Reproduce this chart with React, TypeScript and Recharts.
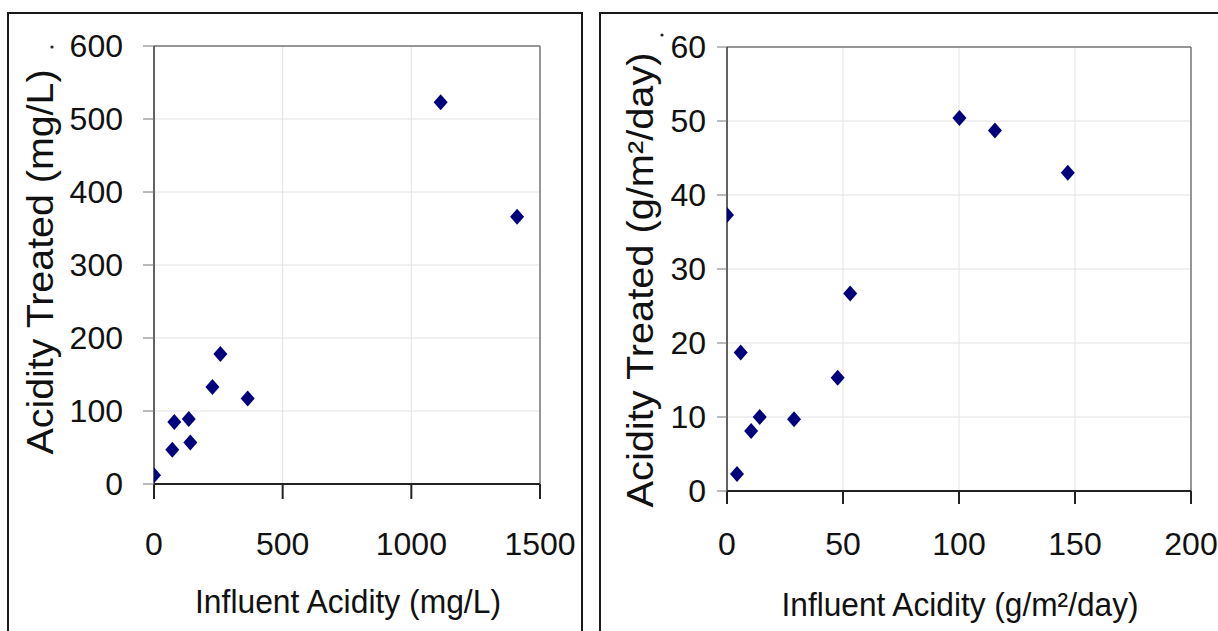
import React from 'react';
import { ScatterChart, Scatter, XAxis, YAxis, CartesianGrid, ReferenceLine } from 'recharts';

// Left panel: concentration basis (mg/L)
const leftInfluent = [0, 71, 79, 135, 141, 227, 258, 364, 1114, 1411];
const leftTreated = [12, 47, 85, 89, 57, 133, 178, 117, 523, 366];
const leftXTicks = [0, 500, 1000, 1500];
const leftYTicks = [0, 100, 200, 300, 400, 500, 600];

// Right panel: loading basis (g/m2/day)
const rightInfluent = [0, 4.3, 5.9, 10.4, 14.1, 28.9, 47.7, 53.1, 100.2, 115.5, 146.9];
const rightTreated = [37.3, 2.3, 18.7, 8.1, 10.0, 9.7, 15.3, 26.7, 50.4, 48.7, 43.0];
const rightXTicks = [0, 50, 100, 150, 200];
const rightYTicks = [0, 10, 20, 30, 40, 50, 60];

const leftData = leftInfluent.map((x, i) => ({ x, y: leftTreated[i] }));
const rightData = rightInfluent.map((x, i) => ({ x, y: rightTreated[i] }));

const FONT = "'Liberation Sans', Arial, sans-serif";
const MARK = '#00007c';

const Diamond = (props: any) => {
  const { cx, cy } = props;
  if (cx == null || cy == null) return null;
  return (
    <polygon
      points={`${cx},${cy - 8} ${cx + 7},${cy} ${cx},${cy + 8} ${cx - 7},${cy}`}
      fill={MARK}
    />
  );
};

const tickStyle = { fontSize: 32, fill: '#111', fontFamily: FONT };

const LeftYTitle = (props: any) => {
  const vb = props.viewBox || { x: 0, y: 46, width: 154, height: 438 };
  const x = vb.x + 53;
  const y = vb.y + vb.height / 2 - 3;
  return (
    <g>
      <text
        x={x}
        y={y}
        transform={`rotate(-90, ${x}, ${y})`}
        textAnchor="middle"
        fontSize={36}
        fontFamily={FONT}
        fill="#111"
        textLength={385}
        lengthAdjust="spacingAndGlyphs"
      >
        Acidity Treated (mg/L)
      </text>
      <circle cx={vb.x + 52} cy={vb.y + 1} r={1.6} fill="#222" />
    </g>
  );
};

const LeftXTitle = (props: any) => {
  const vb = props.viewBox || { x: 154, y: 484, width: 386, height: 147 };
  const x = vb.x + vb.width / 2 + 1;
  const y = vb.y + 129;
  return (
    <text
      x={x}
      y={y}
      textAnchor="middle"
      fontSize={33}
      fontFamily={FONT}
      fill="#111"
      textLength={306}
      lengthAdjust="spacingAndGlyphs"
    >
      Influent Acidity (mg/L)
    </text>
  );
};

const RightYTitle = (props: any) => {
  const vb = props.viewBox || { x: 0, y: 47, width: 127, height: 444 };
  const x = vb.x + 53;
  const y = vb.y + vb.height / 2 + 11;
  return (
    <g>
      <text
        x={x}
        y={y}
        transform={`rotate(-90, ${x}, ${y})`}
        textAnchor="middle"
        fontSize={36}
        fontFamily={FONT}
        fill="#111"
        textLength={455}
        lengthAdjust="spacingAndGlyphs"
      >
        Acidity Treated (g/m²/day)
      </text>
      <circle cx={vb.x + 62} cy={vb.y - 12} r={1.6} fill="#222" />
    </g>
  );
};

const RightXTitle = (props: any) => {
  const vb = props.viewBox || { x: 127, y: 491, width: 464, height: 140 };
  const x = vb.x + vb.width / 2 + 1;
  const y = vb.y + 125;
  return (
    <text
      x={x}
      y={y}
      textAnchor="middle"
      fontSize={33}
      fontFamily={FONT}
      fill="#111"
      textLength={357}
      lengthAdjust="spacingAndGlyphs"
    >
      Influent Acidity (g/m²/day)
    </text>
  );
};

const panelBorder = (left: number, width: number): React.CSSProperties => ({
  position: 'absolute',
  left,
  top: 12,
  width,
  height: 700,
  border: '2px solid #1a1a1a',
  boxSizing: 'border-box',
});

export default function App() {
  return (
    <div
      style={{
        position: 'absolute',
        left: 0,
        top: 0,
        width: 1218,
        height: 631,
        overflow: 'hidden',
        background: '#fff',
      }}
    >
      <div style={panelBorder(7, 576)} />
      <div style={panelBorder(599, 700)} />

      <div style={{ position: 'absolute', left: 0, top: 0 }}>
        <ScatterChart width={600} height={631} margin={{ top: 46, right: 60, bottom: 0, left: 0 }}>
          <CartesianGrid stroke="#e2e2e2" strokeWidth={1} />
          <XAxis
            type="number"
            dataKey="x"
            domain={[0, 1500]}
            ticks={leftXTicks}
            height={147}
            tickSize={15}
            tickMargin={33}
            tick={tickStyle}
            axisLine={{ stroke: '#222', strokeWidth: 2 }}
            tickLine={{ stroke: '#222', strokeWidth: 2 }}
            label={{ content: LeftXTitle }}
            allowDataOverflow
          />
          <YAxis
            type="number"
            dataKey="y"
            domain={[0, 600]}
            ticks={leftYTicks}
            width={154}
            tickSize={11}
            tickMargin={20}
            tick={tickStyle}
            axisLine={{ stroke: '#333', strokeWidth: 1.5 }}
            tickLine={{ stroke: '#777', strokeWidth: 1 }}
            label={{ content: LeftYTitle }}
            allowDataOverflow
          />
          <ReferenceLine y={600} stroke="#777" strokeWidth={1.5} />
          <ReferenceLine x={1500} stroke="#777" strokeWidth={1.5} />
          <Scatter data={leftData} shape={Diamond} isAnimationActive={false} />
        </ScatterChart>
      </div>

      <div style={{ position: 'absolute', left: 600, top: 0 }}>
        <ScatterChart width={618} height={631} margin={{ top: 47, right: 27, bottom: 0, left: 0 }}>
          <CartesianGrid stroke="#e2e2e2" strokeWidth={1} />
          <XAxis
            type="number"
            dataKey="x"
            domain={[0, 200]}
            ticks={rightXTicks}
            height={140}
            tickSize={13}
            tickMargin={28}
            tick={tickStyle}
            axisLine={{ stroke: '#222', strokeWidth: 2 }}
            tickLine={{ stroke: '#222', strokeWidth: 2 }}
            label={{ content: RightXTitle }}
            allowDataOverflow
          />
          <YAxis
            type="number"
            dataKey="y"
            domain={[0, 60]}
            ticks={rightYTicks}
            width={127}
            tickSize={10}
            tickMargin={11}
            tick={tickStyle}
            axisLine={{ stroke: '#333', strokeWidth: 1.5 }}
            tickLine={{ stroke: '#777', strokeWidth: 1 }}
            label={{ content: RightYTitle }}
            allowDataOverflow
          />
          <ReferenceLine y={60} stroke="#777" strokeWidth={1.5} />
          <ReferenceLine x={200} stroke="#777" strokeWidth={1.5} />
          <Scatter data={rightData} shape={Diamond} isAnimationActive={false} />
        </ScatterChart>
      </div>
    </div>
  );
}
